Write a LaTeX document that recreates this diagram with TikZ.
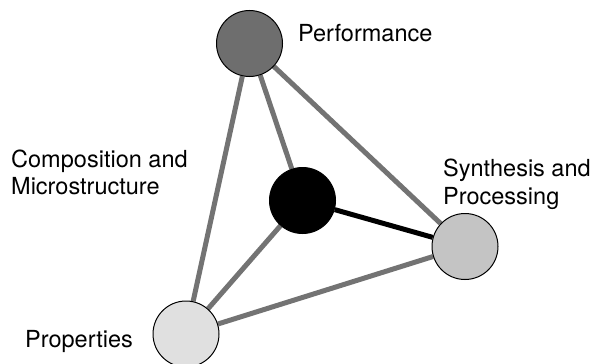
\documentclass[tikz,border=0pt]{standalone}
\usepackage{fontspec}
\setmainfont{TeX Gyre Heros}
\usetikzlibrary{backgrounds}
\definecolor{perfgray}{gray}{0.43}
\definecolor{synthgray}{gray}{0.77}
\definecolor{propgray}{gray}{0.88}
\definecolor{linkgray}{gray}{0.45}
\tikzset{
    ball/.style={circle, draw=black, line width=1pt, minimum size=66pt, inner sep=0pt},
    link/.style={line width=5pt, draw=linkgray},
    lbl/.style={inner sep=0pt, anchor=base west, align=left, font=\fontsize{23.5}{27.5}\selectfont}
}
\begin{document}
\begin{tikzpicture}[x=1pt, y=-1pt]
    \useasboundingbox (0,0) rectangle (597,364);
    \node[ball, fill=perfgray](perf) at (249.5,43.5){};
    \node[ball, fill=black](comp) at (302.5,200.5){};
    \node[ball, fill=synthgray](synth) at (465,246.5){};
    \node[ball, fill=propgray](prop) at (186,334){};
    
    \begin{scope}[on background layer]
        \draw[link](perf)--(prop);
        \draw[link](perf)--(comp);
        \draw[link](perf)--(synth);
        \draw[link](prop)--(comp);
        \draw[link](prop)--(synth);
        \draw[link, draw=black](comp)--(synth);
    \end{scope}
    
    \node[lbl](perflbl) at (298,41.5){Performance};
    \node[lbl](complbl) at (11,194.5){Composition and\\Microstructure};
    \node[lbl](synthlbl) at (443,204){Synthesis and\\Processing};
    \node[lbl](proplbl) at (25,347){Properties};
\end{tikzpicture}
\end{document}
